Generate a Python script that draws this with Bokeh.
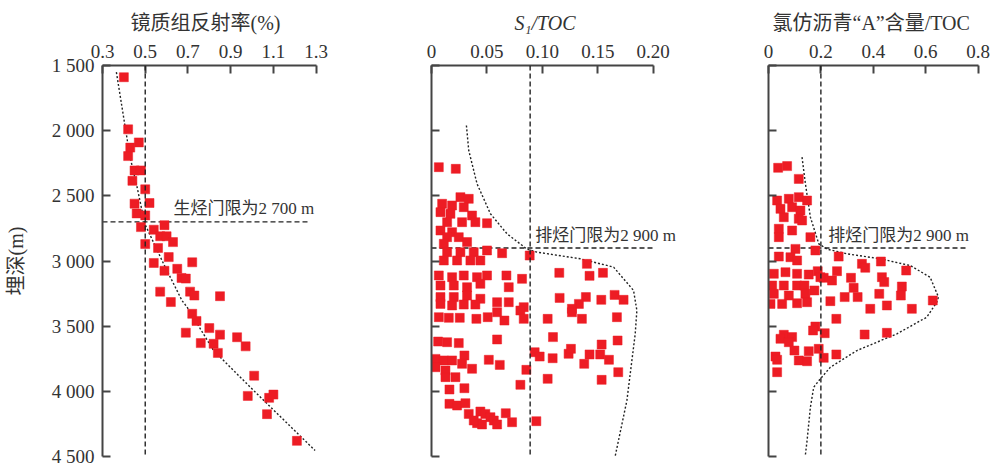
from bokeh.plotting import figure
from bokeh.layouts import row
from bokeh.models import Range1d, Span, Label, FixedTicker, CustomJSTickFormatter
from bokeh.embed import file_html
from bokeh.resources import INLINE

# ---------------- data ----------------
depth_ticks = [1500, 2000, 2500, 3000, 3500, 4000, 4500]
depth_tick_labels = ["1 500", "2 000", "2 500", "3 000", "3 500", "4 000", "4 500"]
ro_ticks = [0.3, 0.5, 0.7, 0.9, 1.1, 1.3]
ro_tick_labels = ["0.3", "0.5", "0.7", "0.9", "1.1", "1.3"]
s1_ticks = [0, 0.05, 0.10, 0.15, 0.20]
s1_tick_labels = ["0", "0.05", "0.10", "0.15", "0.20"]
a_ticks = [0, 0.2, 0.4, 0.6, 0.8]
a_tick_labels = ["0", "0.2", "0.4", "0.6", "0.8"]

ro_values = [0.40, 0.42, 0.47, 0.43, 0.42, 0.45, 0.48, 0.44, 0.50, 0.45, 0.52, 0.46, 0.50,
             0.48, 0.59, 0.54, 0.57, 0.60, 0.63, 0.50, 0.56, 0.61, 0.72, 0.54, 0.65, 0.59,
             0.67, 0.69, 0.57, 0.71, 0.73, 0.85, 0.62, 0.72, 0.74, 0.69, 0.80, 0.85, 0.76,
             0.82, 0.84, 0.93, 0.97, 1.01, 0.98, 1.08, 1.10, 1.07, 1.21]
ro_depths = [1590, 1990, 2090, 2130, 2195, 2305, 2305, 2385, 2450, 2560, 2555, 2635, 2650,
             2740, 2725, 2760, 2810, 2810, 2855, 2870, 2900, 2970, 3010, 3015, 3060, 3075,
             3130, 3135, 3235, 3235, 3265, 3270, 3315, 3405, 3460, 3550, 3515, 3565, 3630,
             3635, 3705, 3585, 3655, 3880, 4035, 4050, 4025, 4175, 4380]
ro_trend_x = [0.365, 0.428, 0.462, 0.498, 0.586, 0.672, 0.696, 0.82, 1.007, 1.295]
ro_trend_depth = [1551, 2195, 2434, 2715, 3022, 3303, 3354, 3687, 3993, 4454]

s1_values = [0.0066, 0.0219, 0.0261, 0.0336, 0.0096, 0.0186, 0.0291, 0.0081, 0.0171, 0.0366,
             0.0141, 0.0276, 0.0396, 0.0501, 0.0081, 0.0186, 0.0141, 0.0246, 0.0321, 0.0111,
             0.0501, 0.0637, 0.0886, 0.0141, 0.0261, 0.0381, 0.0111, 0.0231, 0.0351, 0.0441,
             0.0066, 0.0186, 0.0291, 0.0411, 0.0501, 0.0676, 0.0817, 0.0081, 0.0201, 0.0321,
             0.0441, 0.0697, 0.0081, 0.0201, 0.0321, 0.0441, 0.0592, 0.0697, 0.0832,
             0.1153, 0.1402, 0.1426, 0.1547, 0.1156, 0.1393, 0.1532, 0.1652, 0.1733, 0.1330,
             0.1267,
             0.0081, 0.0186, 0.0291, 0.0396,
             0.0066, 0.0156, 0.0255, 0.0405, 0.0507, 0.0592, 0.0658, 0.0802, 0.0832, 0.1048,
             0.1267, 0.1357, 0.1673, 0.0060, 0.0141, 0.0246, 0.0592, 0.1096, 0.1535, 0.1679,
             0.0036, 0.0111, 0.0186, 0.0297, 0.0276, 0.0517, 0.0616, 0.0931, 0.0976, 0.1093,
             0.1237, 0.1258, 0.1378, 0.1426, 0.1522, 0.1601, 0.0036, 0.0126, 0.0216, 0.0126,
             0.0366, 0.0856, 0.0802, 0.1048, 0.1535, 0.1685, 0.0162, 0.0297, 0.0162, 0.0231,
             0.0306, 0.0336, 0.0441, 0.0486, 0.0532, 0.0411, 0.0456, 0.0562, 0.0592, 0.0670,
             0.0727, 0.0946, 0.0381]
s1_depths = [2280, 2293, 2510, 2523, 2561, 2574, 2587, 2625, 2638, 2651,
             2702, 2702, 2702, 2710, 2766, 2779, 2817, 2817, 2855, 2868,
             2919, 2940, 2958, 2932, 2932, 2932, 2996, 2996, 2996, 2996,
             3111, 3124, 3111, 3124, 3111, 3111, 3137, 3188, 3188, 3201,
             3175, 3201, 3277, 3277, 3265, 3290, 3316, 3316, 3354,
             3091, 3022, 3114, 3091, 3283, 3277, 3298, 3260, 3298, 3329,
             3367,
             3329, 3341, 3334, 3334,
             3431, 3436, 3436, 3444, 3431, 3393, 3457, 3380, 3444, 3444,
             3393, 3444, 3431, 3618, 3623, 3630, 3602, 3584, 3641, 3610,
             3751, 3763, 3763, 3725, 3789, 3758, 3797, 3700, 3733, 3746,
             3712, 3674, 3789, 3717, 3717, 3758, 3815, 3840, 3891, 3891,
             3827, 3835, 3950, 3904, 3912, 3853, 3986, 3976, 4096, 4109,
             4091, 4173, 4155, 4173, 4198, 4244, 4254, 4224, 4254, 4168,
             4237, 4229, 4224]
s1_curve_x = [0.0315, 0.0336, 0.0411, 0.0532, 0.0682, 0.0862, 0.0952, 0.1342, 0.1643,
              0.1823, 0.1853, 0.1838, 0.1763, 0.1643]
s1_curve_depth = [1960, 2152, 2408, 2638, 2792, 2909, 2932, 2983, 3047, 3226, 3380, 3559,
                  4070, 4556]

a_values = [0.0368, 0.0711, 0.1156, 0.0330, 0.0775, 0.1156, 0.1473, 0.0457, 0.0902, 0.1219,
            0.0584, 0.1156, 0.1283, 0.0394, 0.0902, 0.1600, 0.0394, 0.1029, 0.1790, 0.0394,
            0.0838, 0.1092, 0.2679, 0.3568, 0.4292, 0.3695, 0.5257, 0.0203, 0.0648, 0.1092,
            0.1536, 0.1879, 0.2616, 0.2108, 0.2425, 0.3149, 0.4330, 0.4419, 0.0140, 0.0584,
            0.1092, 0.1371, 0.3251, 0.5092, 0.0203, 0.0775, 0.1409, 0.1752, 0.3403, 0.4229,
            0.5054, 0.2362, 0.2908, 0.6273, 0.0076, 0.0521, 0.1092, 0.1473, 0.3886, 0.4520,
            0.5473, 0.1981,
            0.2590, 0.1790, 0.1702, 0.2146, 0.0584, 0.0902, 0.0457, 0.0775, 0.3670, 0.4520,
            0.0990, 0.1536, 0.1917, 0.2590, 0.0267, 0.0330, 0.1156, 0.1473, 0.2108, 0.0330]
a_depths = [2285, 2272, 2370, 2536, 2523, 2510, 2536, 2600, 2587, 2613,
            2664, 2676, 2689, 2753, 2766, 2817, 2817, 2907, 2919, 2966,
            2971, 2996, 2966, 3022, 3004, 3052, 3073, 3098, 3086, 3098,
            3104, 3078, 3078, 3129, 3150, 3129, 3124, 3162, 3188, 3188,
            3188, 3188, 3206, 3196, 3252, 3265, 3252, 3226, 3277, 3252,
            3265, 3308, 3277, 3303, 3329, 3329, 3324, 3316, 3367, 3341,
            3367, 3124,
            3444, 3503, 3533, 3554, 3566, 3584, 3597, 3623, 3564, 3551,
            3687, 3692, 3674, 3717, 3733, 3758, 3763, 3769, 3743, 3853]
a_curve_x = [0.128, 0.141, 0.160, 0.192, 0.2235, 0.2997, 0.4267, 0.541, 0.617, 0.649,
             0.6425, 0.6044, 0.4902, 0.3378, 0.2362, 0.198, 0.1727, 0.160, 0.1473, 0.141]
a_curve_depth = [2203, 2408, 2664, 2868, 2909, 2945, 2983, 3035, 3124, 3277,
                 3316, 3431, 3559, 3687, 3815, 3904, 3968, 4121, 4377, 4485]

ro_threshold = 0.5
gen_depth = 2700
gen_line_ro = [0.3, 1.27]
gen_label = "生烃门限为2 700 m"
s1_threshold = 0.089
exp_depth = 2900
s1_line = [0, 0.2]
a_threshold = 0.2
a_line = [0, 0.754]
exp_label = "排烃门限为2 900 m"

# ---------------- style ----------------
FONT = "Liberation Serif, Noto Sans CJK SC"
TXT = "#333333"
AX = "#444444"
RED = "#ED1C24"
H = 466
TOP = 65
BOTTOM = 10


def fmt(ticks, labels):
    return CustomJSTickFormatter(args=dict(t=ticks, l=labels), code="""
        for (let i = 0; i < t.length; i++) { if (Math.abs(tick - t[i]) < 1e-9) return l[i]; }
        return '';""")


def make_fig(width, xr, xbounds, xticks, xlabels, left, right, ylabels, title, toff, tstyle):
    p = figure(width=width, height=H, x_range=Range1d(*xr), y_range=Range1d(4500, 1500),
               x_axis_location="above", output_backend="svg", toolbar_location=None,
               min_border_left=left, min_border_right=right, min_border_top=TOP,
               min_border_bottom=BOTTOM, title=title)
    p.title.text_font = FONT
    p.title.text_font_size = "20px"
    p.title.text_font_style = tstyle
    p.title.text_color = TXT
    p.title.align = "left"
    p.title.offset = toff
    p.title.standoff = 16
    p.outline_line_color = None
    p.xgrid.visible = False
    p.ygrid.visible = False
    p.background_fill_color = "white"
    for ax in (p.xaxis[0], p.yaxis[0]):
        ax.axis_line_color = AX
        ax.axis_line_width = 2
        ax.major_tick_line_color = AX
        ax.major_tick_line_width = 2
        ax.major_tick_in = 8
        ax.major_tick_out = 0
        ax.minor_tick_line_color = None
        ax.major_label_text_font = FONT
        ax.major_label_text_font_size = "19px"
        ax.major_label_text_color = TXT
        ax.axis_label_text_font = FONT
        ax.axis_label_text_font_size = "20px"
        ax.axis_label_text_color = TXT
        ax.axis_label_text_font_style = "normal"
    p.xaxis[0].bounds = xbounds
    p.xaxis[0].ticker = FixedTicker(ticks=xticks)
    p.xaxis[0].formatter = fmt(xticks, xlabels)
    p.xaxis[0].major_label_standoff = 8
    p.yaxis[0].ticker = FixedTicker(ticks=depth_ticks)
    p.yaxis[0].formatter = fmt(depth_ticks, depth_tick_labels if ylabels else [""] * len(depth_ticks))
    p.yaxis[0].major_label_standoff = 8
    return p


dash_kw = dict(line_color="#222222", line_width=1.4, line_dash="5 3")
dot_kw = dict(line_color="#222222", line_width=1.4, line_dash="2 2")
sq_kw = dict(marker="square", size=9, fill_color=RED, line_color=RED, line_alpha=0.5, line_width=1)
lab_kw = dict(text_font=FONT, text_font_size="17px", text_color=TXT, text_baseline="middle")

# ---- panel 1: vitrinite reflectance ----
p1 = make_fig(342, (0.3, 1.4), (0.3, 1.3), ro_ticks, ro_tick_labels, 102, 5, True,
              "镜质组反射率(%)", 28, "normal")
p1.yaxis[0].axis_label = "埋深(m)"
p1.yaxis[0].axis_label_standoff = 22
p1.add_layout(Span(location=ro_threshold, dimension="height", **dash_kw))
p1.line(gen_line_ro, [gen_depth, gen_depth], **dash_kw)
p1.line(ro_trend_x, ro_trend_depth, **dot_kw)
p1.scatter(ro_values, ro_depths, **sq_kw)
p1.add_layout(Label(x=0.632, y=gen_depth - 100, text=gen_label, **lab_kw))

# ---- panel 2: S1/TOC ----
p2 = make_fig(360, (0, 0.24), (0, 0.2), s1_ticks, s1_tick_labels, 89, 5, False,
              "S₁/TOC", 83, "italic")
p2.add_layout(Span(location=s1_threshold, dimension="height", **dash_kw))
p2.line(s1_line, [exp_depth, exp_depth], **dash_kw)
p2.line(s1_curve_x, s1_curve_depth, **dot_kw)
p2.scatter(s1_values, s1_depths, **sq_kw)
p2.add_layout(Label(x=0.0937, y=exp_depth - 92, text=exp_label, **lab_kw))

# ---- panel 3: chloroform bitumen "A"/TOC ----
p3 = make_fig(293, (0, 0.84), (0, 0.8), a_ticks, a_tick_labels, 66, 7, False,
              "氯仿沥青“A”含量/TOC", 4, "normal")
p3.add_layout(Span(location=a_threshold, dimension="height", **dash_kw))
p3.line(a_line, [exp_depth, exp_depth], **dash_kw)
p3.line(a_curve_x, a_curve_depth, **dot_kw)
p3.scatter(a_values, a_depths, **sq_kw)
p3.add_layout(Label(x=0.228, y=exp_depth - 95, text=exp_label, **lab_kw))

layout = row(p1, p2, p3, spacing=0)
open("out.html", "w").write(file_html(layout, INLINE))
